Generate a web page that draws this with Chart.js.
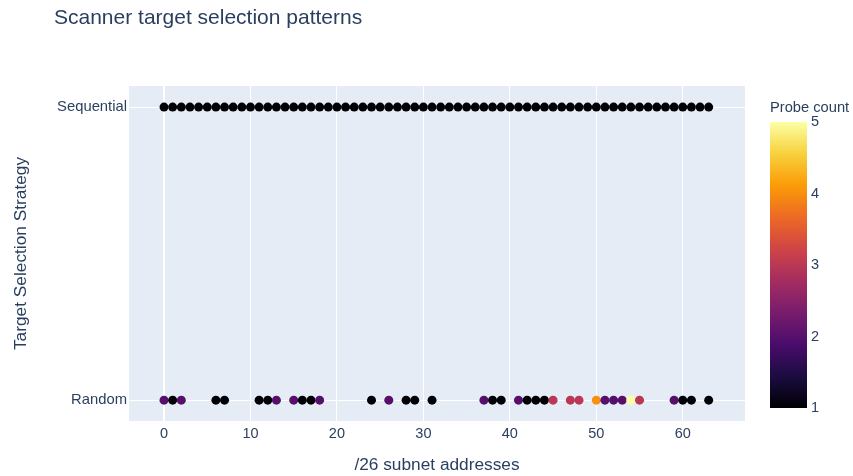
<!DOCTYPE html>
<html>
<head>
<meta charset="utf-8">
<script src="https://cdn.jsdelivr.net/npm/chart.js@4/dist/chart.umd.min.js"></script>
<style>
  html, body { margin: 0; padding: 0; background: #fff; }
  #wrap { width: 853px; height: 476px; position: relative; }
</style>
</head>
<body>
<div id="wrap"><canvas id="cvs"></canvas></div>
<script>
// categories on the y axis (index 0 = Random, 1 = Sequential)
var yLabels = ['Random', 'Sequential']

// sequential scanner: every /26 address, one probe each
var seqX = [0,1,2,3,4,5,6,7,8,9,10,11,12,13,14,15,16,17,18,19,20,21,22,23,24,25,26,27,28,29,30,31,
            32,33,34,35,36,37,38,39,40,41,42,43,44,45,46,47,48,49,50,51,52,53,54,55,56,57,58,59,60,61,62,63]
var seqCount = [1,1,1,1,1,1,1,1,1,1,1,1,1,1,1,1,1,1,1,1,1,1,1,1,1,1,1,1,1,1,1,1,
                1,1,1,1,1,1,1,1,1,1,1,1,1,1,1,1,1,1,1,1,1,1,1,1,1,1,1,1,1,1,1,1]

// random scanner
var randX     = [0,1,2,6,7,11,12,13,15,16,17,18,24,26,28,29,31,37,38,39,41,42,43,44,45,47,48,50,51,52,53,54,55,59,60,61,63]
var randCount = [2,1,2,1,1,1, 1, 2, 2, 1, 1, 2, 1, 2, 1, 1, 1, 2, 1, 1, 2, 1, 1, 1, 3, 3, 3, 4, 2, 2, 2, 5, 3, 2, 1, 1, 1]

var xTicks = [0, 10, 20, 30, 40, 50, 60]
var cbTicks = [1, 2, 3, 4, 5]

var inferno = ['#000004', '#1b0c41', '#4a0c6b', '#781c6d', '#a52c60',
               '#cf4446', '#ed6925', '#fb9b06', '#f7d13d', '#fcffa4']

var FONT = '"Liberation Sans", Arial, sans-serif'
var TXT = '#2a3f5f'

function hex2rgb(h){
	return [parseInt(h.substr(1,2),16), parseInt(h.substr(3,2),16), parseInt(h.substr(5,2),16)]
}
function colorAt(t){
	t = Math.max(0, Math.min(1, t))
	var p = t * (inferno.length - 1)
	var i = Math.min(Math.floor(p), inferno.length - 2)
	var f = p - i
	var a = hex2rgb(inferno[i]), b = hex2rgb(inferno[i+1])
	return 'rgb(' + Math.round(a[0]+(b[0]-a[0])*f) + ',' + Math.round(a[1]+(b[1]-a[1])*f) + ',' + Math.round(a[2]+(b[2]-a[2])*f) + ')'
}
function countColor(c){ return colorAt((c - 1) / 4) }

var points = [], pointColors = []
for (var i = 0; i < seqX.length; i++){
	points.push({x: seqX[i], y: 1, c: seqCount[i]})
	pointColors.push(countColor(seqCount[i]))
}
for (var j = 0; j < randX.length; j++){
	points.push({x: randX[j], y: 0, c: randCount[j]})
	pointColors.push(countColor(randCount[j]))
}

var decor = {
	id: 'decor',
	beforeDraw: function(chart){
		var ctx = chart.ctx, a = chart.chartArea
		ctx.save()
		ctx.fillStyle = '#e5ecf6'
		ctx.fillRect(a.left, a.top, a.right - a.left, a.bottom - a.top)
		ctx.restore()
	},
	afterDraw: function(chart){
		var ctx = chart.ctx, a = chart.chartArea
		ctx.save()
		// title
		ctx.fillStyle = TXT
		ctx.font = '21px ' + FONT
		ctx.textAlign = 'left'
		ctx.textBaseline = 'middle'
		ctx.fillText('Scanner target selection patterns', 54, 18)
		// axis titles
		ctx.font = '17.3px ' + FONT
		ctx.textAlign = 'center'
		ctx.fillText('/26 subnet addresses', (a.left + a.right) / 2, 465)
		ctx.translate(21, (a.top + a.bottom) / 2)
		ctx.rotate(-Math.PI / 2)
		ctx.fillText('Target Selection Strategy', 0, 0)
		ctx.restore()

		// colorbar
		var x0 = 770, x1 = 807, top = 122, bot = 408
		ctx.save()
		var g = ctx.createLinearGradient(0, bot, 0, top)
		for (var k = 0; k < inferno.length; k++) g.addColorStop(k / (inferno.length - 1), inferno[k])
		ctx.fillStyle = g
		ctx.fillRect(x0, top, x1 - x0, bot - top)
		ctx.fillStyle = TXT
		ctx.font = '14.5px ' + FONT
		ctx.textAlign = 'left'
		ctx.textBaseline = 'middle'
		cbTicks.forEach(function(v){
			var y = bot - (v - 1) / 4 * (bot - top)
			ctx.fillText(String(v), 811, y)
		})
		ctx.font = '14.7px ' + FONT
		ctx.fillText('Probe count', 770, 108)
		ctx.restore()
	}
}

new Chart(document.getElementById('cvs'), {
	type: 'scatter',
	data: {
		datasets: [{
			label: 'Probe count',
			data: points,
			pointBackgroundColor: pointColors,
			pointBorderWidth: 0,
			pointRadius: 4.5,
			pointHoverRadius: 4.5
		}]
	},
	options: {
		responsive: true,
		maintainAspectRatio: false,
		animation: false,
		layout: { padding: { top: 86, right: 108, left: 0, bottom: 0 } },
		plugins: { legend: { display: false }, tooltip: { enabled: false }, title: { display: false } },
		scales: {
			x: {
				type: 'linear',
				min: -4.05,
				max: 67.2,
				afterBuildTicks: function(s){ s.ticks = xTicks.map(function(v){ return {value: v} }) },
				afterFit: function(s){ s.height = 55 },
				border: { display: false },
				grid: {
					color: '#ffffff',
					lineWidth: function(c){ return c.tick && c.tick.value === 0 ? 2 : 1 },
					drawTicks: false
				},
				ticks: { color: TXT, font: { family: FONT, size: 14.5 }, padding: 4, maxRotation: 0 }
			},
			y: {
				type: 'linear',
				min: -0.071,
				max: 1.072,
				afterBuildTicks: function(s){ s.ticks = [{value: 0}, {value: 1}] },
				afterFit: function(s){ s.width = 129 },
				border: { display: false },
				grid: { color: '#ffffff', lineWidth: 1, drawTicks: false },
				ticks: {
					color: TXT, font: { family: FONT, size: 14.8 }, padding: 2,
					callback: function(v){ return yLabels[v] }
				}
			}
		}
	},
	plugins: [decor]
})
</script>
</body>
</html>
